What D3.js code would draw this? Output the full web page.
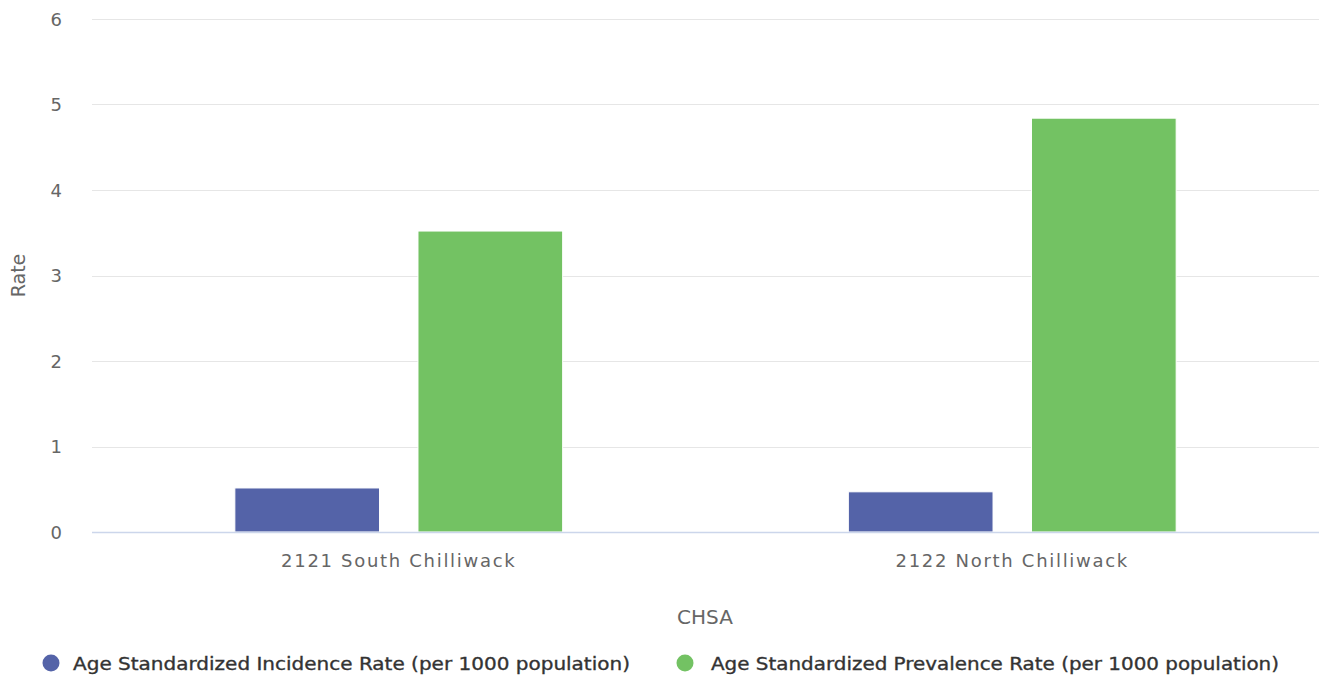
<!DOCTYPE html>
<html>
<head>
<meta charset="utf-8">
<script src="https://cdn.jsdelivr.net/npm/d3@7"></script>
<style>
  body { margin: 0; background: #fff; }
  text { font-family: "DejaVu Sans", "Noto Sans", sans-serif; }
</style>
</head>
<body>
<div id="chart"></div>
<script>
const categories = ["2121 South Chilliwack", "2122 North Chilliwack"];
const seriesNames = [
  "Age Standardized Incidence Rate (per 1000 population)",
  "Age Standardized Prevalence Rate (per 1000 population)"
];
const incidence = [0.515, 0.47];
const prevalence = [3.52, 4.84];
const yTicks = [0, 1, 2, 3, 4, 5, 6];
const colors = ["#5463a8", "#73c263"];

const W = 1319, H = 677;
const margin = { top: 19, right: 0, bottom: 145, left: 92 };
const width = W - margin.left - margin.right;
const height = H - margin.top - margin.bottom;

const svg = d3.select("#chart").append("svg")
  .attr("width", W).attr("height", H);

const g = svg.append("g")
  .attr("transform", "translate(" + margin.left + "," + margin.top + ")");

const x = d3.scaleBand().domain(categories).range([0, width]);
const xs = d3.scaleBand().domain([0, 1]).range([0, x.bandwidth()])
  .paddingInner(0.21).paddingOuter(0.78);
const y = d3.scaleLinear().domain([0, 6]).range([height, 0]);

// grid
g.selectAll(".grid").data(yTicks.filter(d => d > 0)).enter().append("line")
  .attr("x1", 0).attr("x2", width)
  .attr("y1", d => Math.round(y(d)) + 0.5).attr("y2", d => Math.round(y(d)) + 0.5)
  .attr("stroke", "#e6e6e6").attr("stroke-width", 1);

// y labels
g.selectAll(".ylab").data(yTicks).enter().append("text")
  .attr("x", -30).attr("y", d => y(d) + 6.5)
  .attr("text-anchor", "end")
  .attr("font-size", 18).attr("fill", "#666")
  .text(d => d);

const series = [incidence, prevalence];
series.forEach((vals, si) => {
  g.selectAll(".bar" + si).data(categories).enter().append("rect")
    .attr("x", d => x(d) + xs(si))
    .attr("width", xs.bandwidth())
    .attr("y", (d, i) => y(vals[i]))
    .attr("height", (d, i) => height - y(vals[i]))
    .attr("fill", colors[si])
    .attr("stroke", "#fff").attr("stroke-width", 1);
});

// x axis line
g.append("line")
  .attr("x1", 0).attr("x2", width)
  .attr("y1", height + 0.5).attr("y2", height + 0.5)
  .attr("stroke", "#ccd6eb").attr("stroke-width", 1.5);

// x labels
g.selectAll(".xlab").data(categories).enter().append("text")
  .attr("x", d => x(d) + x.bandwidth() / 2)
  .attr("y", height + 35)
  .attr("text-anchor", "middle")
  .attr("font-size", 18).attr("fill", "#666")
  .attr("letter-spacing", 1.7)
  .text(d => d);

// axis titles
svg.append("text")
  .attr("x", 705).attr("y", 624)
  .attr("text-anchor", "middle")
  .attr("font-size", 20).attr("fill", "#666")
  .text("CHSA");

svg.append("text")
  .attr("transform", "translate(25," + (margin.top + height / 2) + ") rotate(-90)")
  .attr("text-anchor", "middle")
  .attr("font-size", 19).attr("fill", "#666")
  .text("Rate");

// legend
const legendX = [51, 685];
const legendW = [557, 568];
const legend = svg.selectAll(".legend").data(seriesNames).enter().append("g")
  .attr("transform", (d, i) => "translate(" + legendX[i] + ",663)");
legend.append("circle").attr("r", 8.5).attr("fill", (d, i) => colors[i]);
legend.append("text")
  .attr("x", (d, i) => i === 0 ? 22 : 26).attr("y", 7)
  .attr("font-size", 18).attr("fill", "#333")
  .attr("stroke", "#333").attr("stroke-width", 0.35)
  .attr("textLength", (d, i) => legendW[i])
  .attr("lengthAdjust", "spacingAndGlyphs")
  .text(d => d);
</script>
</body>
</html>
